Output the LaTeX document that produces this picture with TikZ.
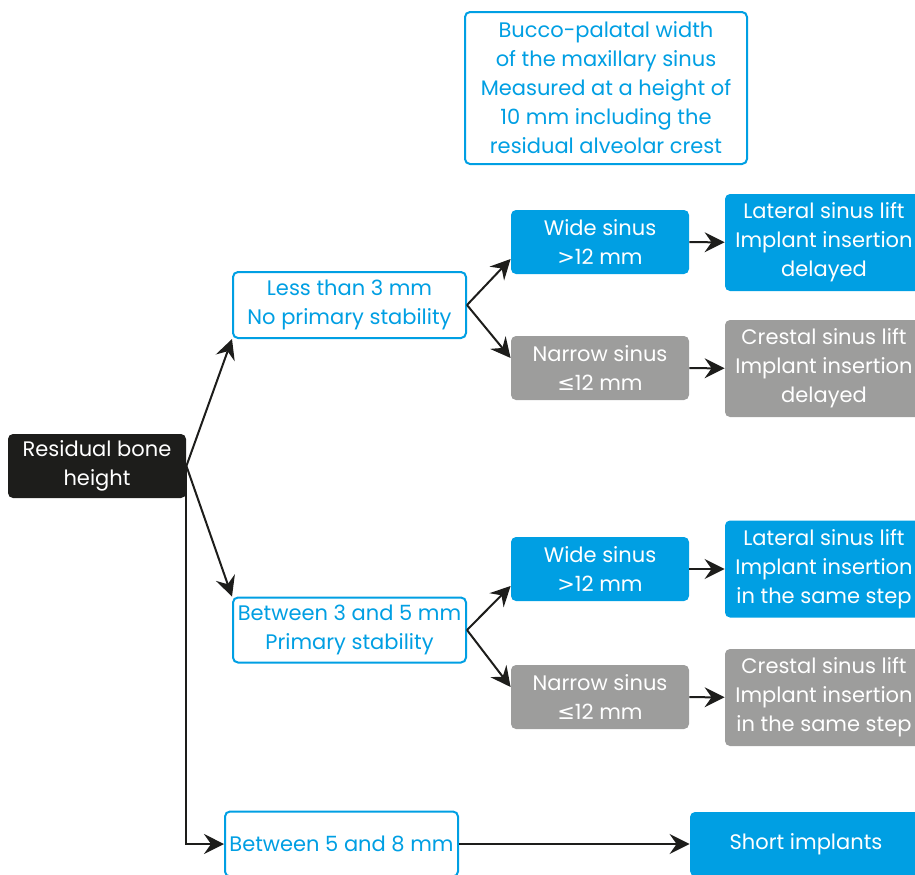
\documentclass[tikz,border=0pt]{standalone}
\usepackage{fontspec}
\setmainfont{Poppins}
\newfontfamily\symbolfont{DejaVu Sans}
\usepackage{xcolor}
\usepackage{tikz}
\usetikzlibrary{positioning,arrows.meta,calc}

\definecolor{sinusblue}{HTML}{009FE3}
\definecolor{sinusgray}{HTML}{9D9D9C}
\definecolor{boneblack}{HTML}{1D1D1B}
\newcommand{\lesseq}{{\symbolfont\char"2264}}
\newcommand{\morethan}{{\symbolfont >}}

\begin{document}
\begin{tikzpicture}[
  x=0.5pt, y=-0.5pt,
  box/.style={rounded corners=2.5pt, inner sep=0pt, align=center,
    font=\fontsize{10.5}{14.5}\selectfont},
  outline/.style={box, draw=sinusblue, line width=1pt, fill=white, text=sinusblue},
  bluebox/.style={box, fill=sinusblue, text=white},
  graybox/.style={box, fill=sinusgray, text=white},
  blackbox/.style={box, fill=boneblack, text=white},
  small/.style={minimum width=89pt, minimum height=32pt},
  wide/.style={minimum width=116.5pt, minimum height=32.5pt},
  result/.style={minimum width=99pt, minimum height=48.5pt},
  arr/.style={-{Stealth[length=10pt, width=10pt, inset=3.5pt]}, line width=1pt, draw=boneblack}
]
\useasboundingbox (0,0) rectangle (915,874);
\clip (0,0) rectangle (915,874);

\node[outline, minimum width=141pt, minimum height=76pt] (width) at (606,88)
  {Bucco-palatal width\\of the maxillary sinus\\Measured at a height of\\10 mm including the\\residual alveolar crest};

\node[blackbox, small] (bone) at (97,466) {Residual bone\\height};

% less than 3 mm
\node[outline, wide, minimum height=33pt] (less) at (349.5,305) {Less than 3 mm\\No primary stability};
\node[bluebox, small] (wideA) at (600,242) {Wide sinus\\\morethan12 mm};
\node[graybox, small] (narrowA) at (600,368) {Narrow sinus\\\lesseq12 mm};
\node[bluebox, result] (latA) at (824,242.5) {Lateral sinus lift\\Implant insertion\\delayed};
\node[graybox, result] (cresA) at (824,368.5) {Crestal sinus lift\\Implant insertion\\delayed};

% between 3 and 5 mm
\node[outline, wide] (mid) at (349.5,630) {Between 3 and 5 mm\\Primary stability};
\node[bluebox, small] (wideB) at (600,569) {Wide sinus\\\morethan12 mm};
\node[graybox, small] (narrowB) at (600,697) {Narrow sinus\\\lesseq12 mm};
\node[bluebox, result] (latB) at (824,569) {Lateral sinus lift\\Implant insertion\\in the same step};
\node[graybox, result] (cresB) at (824,697.5) {Crestal sinus lift\\Implant insertion\\in the same step};

% between 5 and 8 mm
\node[outline, wide] (high) at (341.5,844) {Between 5 and 8 mm};
\node[bluebox, minimum width=116pt, minimum height=32pt] (short) at (806,844) {Short implants};

\draw[arr] (bone.east) -- (less.south west);
\draw[arr] (bone.east) -- (mid.north west);
\draw[arr] (bone.east) |- (high.west);
\draw[arr] (high.east) -- (short.west);

\draw[arr] (less.east) -- ($(wideA.west)+(0,17)$);
\draw[arr] (less.east) -- ($(narrowA.west)+(0,-10)$);
\draw[arr] (mid.east) -- ($(wideB.west)+(0,17)$);
\draw[arr] (mid.east) -- ($(narrowB.west)+(0,-10)$);

\draw[arr] (wideA) -- (latA);
\draw[arr] (narrowA) -- (cresA);
\draw[arr] (wideB) -- (latB);
\draw[arr] (narrowB) -- (cresB);
\end{tikzpicture}
\end{document}
